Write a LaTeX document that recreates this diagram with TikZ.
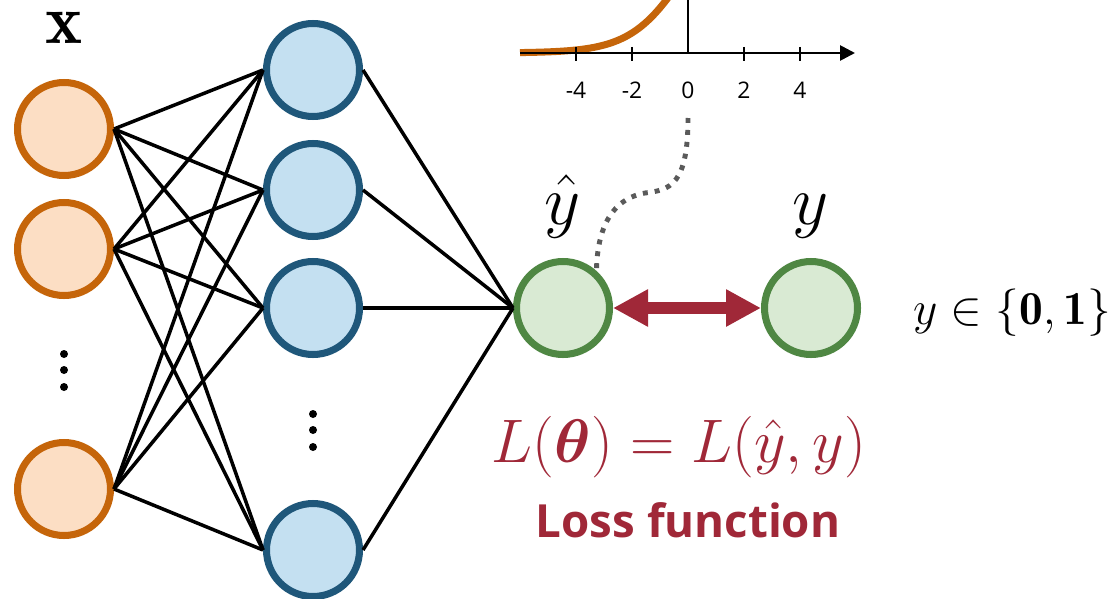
\RequirePackage{fix-cm}
\documentclass[tikz,border=0pt]{standalone}
\usepackage{bm}
\usepackage{fontspec}
\setsansfont{Open Sans}
\usetikzlibrary{arrows.meta,positioning}
\definecolor{ember}{RGB}{197,101,10}
\definecolor{peach}{RGB}{252,222,196}
\definecolor{navy}{RGB}{31,87,122}
\definecolor{sky}{RGB}{196,224,241}
\definecolor{moss}{RGB}{79,135,67}
\definecolor{mint}{RGB}{217,234,211}
\definecolor{wine}{RGB}{160,40,56}
\definecolor{slate}{RGB}{90,90,90}

\begin{document}
\begin{tikzpicture}[x=0.02cm,y=-0.02cm,
    unit/.style={circle,line width=4pt,minimum size=1.86cm,inner sep=0pt},
    inp/.style={unit,draw=ember,fill=peach},
    hid/.style={unit,draw=navy,fill=sky},
    outp/.style={unit,draw=moss,fill=mint},
    edge/.style={line width=2pt},
    big/.style={inner sep=0pt,font=\fontsize{#1}{#1}\selectfont}]
  \useasboundingbox (0,0) rectangle (1114,598);

  % input and hidden layer
  \node[inp] (x1) at (64,129) {};
  \node[inp] (x2) at (64,249) {};
  \node[inp] (x3) at (64,489) {};
  \node[hid] (h1) at (313,70) {};
  \node[hid] (h2) at (313,190) {};
  \node[hid] (h3) at (313,308) {};
  \node[hid] (h4) at (313,550) {};
  \foreach \d in {354,370,387} \fill (64,\d) circle (0.08cm);
  \foreach \d in {414,430,447} \fill (313,\d) circle (0.08cm);

  % output and target
  \node[outp] (yhat) at (563,308) {};
  \node[outp] (y) at (811,308) {};

  \foreach \i in {1,2,3}
    \foreach \j in {1,...,4} \draw[edge] (x\i.east) -- (h\j.west);
  \foreach \j in {1,...,4} \draw[edge] (h\j.east) -- (yhat.west);

  \draw[wine,line width=6.8pt,{Triangle[length=0.7cm,width=0.7cm]}-{Triangle[length=0.7cm,width=0.7cm]}] (yhat) -- (y);

  % sigmoid
  \begin{scope}
    \clip (500,0) rectangle (880,130);
    \draw[ember,line width=4pt] plot[domain=-6:-0.3,samples=60] ({688+28*\x},{53-168/(1+exp(-\x))});
    \draw[line width=1.5pt] (688,53) -- (688,-10);
  \end{scope}
  \draw[line width=1.5pt,-{Triangle[length=0.3cm,width=0.3cm]}] (520,53) -- (855,53);
  \foreach \t in {-4,-2,2,4} \draw[line width=1.5pt] (688+28*\t,47) -- (688+28*\t,61);
  \foreach \t in {-4,-2,0,2,4}
    \node[font=\sffamily\fontsize{13}{13}\selectfont] (tick\t) at (688+28*\t,90) {\t};
  \coordinate (curvetop) at (688,118);
  \draw[slate,line width=2.8pt,dash pattern=on 2.8pt off 4pt] (curvetop) .. controls (688,185) and (670,190) .. (645,193) .. controls (605,200) and (597,240) .. (yhat.48);

  % labels
  \node[big=40] (xlab) at (64,28) {$\mathbf{x}$};
  \node[big=40,anchor=base] (yhatlab) at (563,224) {$\hat{y}$};
  \node[big=40,anchor=base] (ylab) at (811,224) {$y$};
  \node[big=27] (range) at (1012,313) {$y\in\{\mathbf{0},\mathbf{1}\}$};
  \node[big=35,text=wine] (loss) at (679,447) {$L(\bm{\theta})=L(\hat{y},y)$};
  \node[inner sep=0pt,text=wine,font=\sffamily\bfseries\fontsize{26}{26}\selectfont,anchor=base] (losstxt) at (688,537) {Loss function};
\end{tikzpicture}
\end{document}
